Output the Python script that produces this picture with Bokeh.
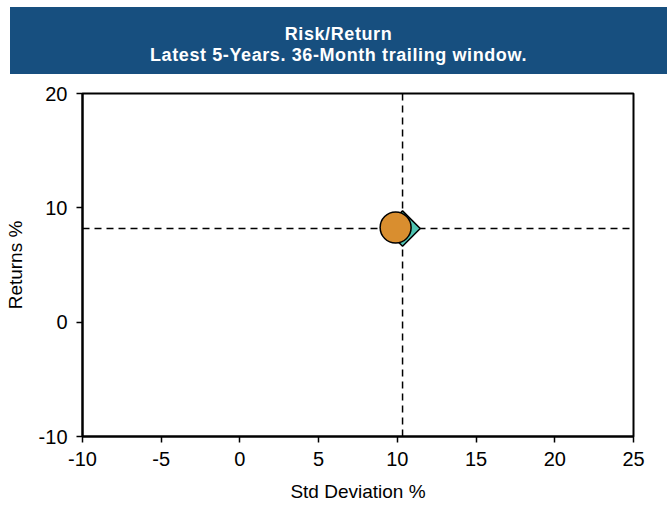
import numpy as np
from bokeh.plotting import figure
from bokeh.layouts import column
from bokeh.models import Span, FixedTicker, Div
from bokeh.embed import file_html
from bokeh.resources import INLINE

# data
series_names = ["Benchmark", "Portfolio"]
std_devs = [10.33, 9.89]
returns = [8.19, 8.28]
x_ticks = [-10, -5, 0, 5, 10, 15, 20, 25]
y_ticks = [-10, 0, 10, 20]
title_lines = ["Risk/Return", "Latest 5-Years. 36-Month trailing window."]

BANNER = "#174f7f"

banner_html = (
    '<div style="width:657px;height:67px;box-sizing:border-box;padding-top:17px;'
    'background:%s;color:white;'
    "font-family:'Liberation Sans';font-weight:bold;font-size:18px;line-height:21px;"
    'letter-spacing:0.6px;text-align:center;">%s</div>'
    % (BANNER, "<br>".join(title_lines))
)
banner = Div(text=banner_html, width=657, height=67, margin=(7, 0, 0, 10))

p = figure(width=667, height=433, x_range=(-10, 25), y_range=(-10, 20),
           toolbar_location=None, output_backend="svg",
           min_border_left=82, min_border_right=34,
           min_border_top=19, min_border_bottom=71, margin=0)
p.grid.visible = False
p.outline_line_color = "black"
p.outline_line_width = 2
p.background_fill_color = "white"
p.border_fill_color = "white"

for ax in (p.xaxis[0], p.yaxis[0]):
    ax.axis_line_color = "black"
    ax.axis_line_width = 2
    ax.major_tick_line_color = "black"
    ax.major_tick_line_width = 1.5
    ax.major_tick_in = 0
    ax.major_tick_out = 6
    ax.minor_tick_line_color = None
    ax.major_label_text_font = "Liberation Sans"
    ax.major_label_text_font_size = "20px"
    ax.major_label_text_color = "black"
    ax.axis_label_text_font = "Liberation Sans"
    ax.axis_label_text_font_size = "19px"
    ax.axis_label_text_font_style = "normal"
    ax.axis_label_text_color = "black"

p.xaxis[0].ticker = FixedTicker(ticks=x_ticks)
p.yaxis[0].ticker = FixedTicker(ticks=y_ticks)
p.xaxis[0].major_label_overrides = {t: str(t) for t in x_ticks}
p.yaxis[0].major_label_overrides = {t: str(t) for t in y_ticks}
p.xaxis[0].axis_label = "Std Deviation %"
p.yaxis[0].axis_label = "Returns %"
p.xaxis[0].major_label_standoff = 9
p.yaxis[0].major_label_standoff = 9
p.xaxis[0].axis_label_standoff = 12
p.yaxis[0].axis_label_standoff = 10

p.add_layout(Span(location=std_devs[0], dimension="height", line_color="black",
                  line_dash="7 5", line_width=1.5, level="underlay"))
p.add_layout(Span(location=returns[0], dimension="width", line_color="black",
                  line_dash="7 5", line_width=1.5, level="underlay"))

p.scatter(x=[std_devs[0]], y=[returns[0]], marker="square", size=25,
          angle=np.pi / 4, fill_color="#4fc4b2", line_color="black", line_width=1.5)
p.scatter(x=[std_devs[1]], y=[returns[1]], marker="circle", size=31,
          fill_color="#d98e2f", line_color="black", line_width=1.5)

layout = column(banner, p, spacing=0)
open("out.html", "w").write(file_html(layout, INLINE))
